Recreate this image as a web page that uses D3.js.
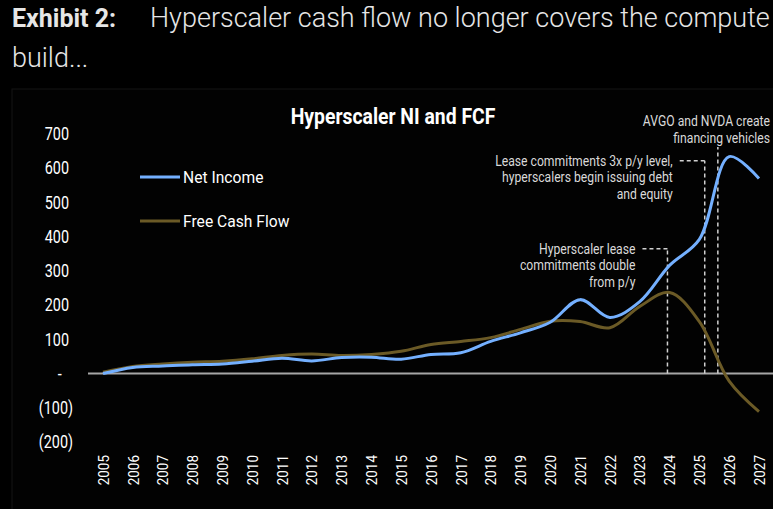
<!DOCTYPE html>
<html>
<head>
<meta charset="utf-8">
<script src="https://cdn.jsdelivr.net/npm/d3@7"></script>
<style>
  html, body { margin: 0; padding: 0; background: #000; }
  svg text { font-family: Roboto, "Noto Sans", sans-serif; }
</style>
</head>
<body>
<svg id="chart" width="773" height="509"></svg>
<script>
// values (USD bn)
const years = d3.range(2005, 2028);
const netIncome = [0, 18, 22, 26, 28, 36, 45, 37, 47, 48, 42, 56, 61, 94, 119, 150, 216, 164, 210, 316, 392, 634, 570];
const freeCashFlow = [4, 21, 28, 33, 36, 43, 53, 57, 53, 56, 65, 85, 94, 105, 129, 153, 152, 134, 196, 237, 152, -22, -111];
const yTicks = [700, 600, 500, 400, 300, 200, 100, 0, -100, -200];

const seriesNames = ["Net Income", "Free Cash Flow"];
const seriesColors = ["#74b0ff", "#6b5a26"];

// annotations: year position of the dashed marker, value where it tops out, text lines
const annoYears = [2023.93, 2025.18, 2025.62];
const annoTops = [365, 622, 662];
const annoTexts = [
  ["Hyperscaler lease", "commitments double", "from p/y"],
  ["Lease commitments 3x p/y level,", "hyperscalers begin issuing debt", "and equity"],
  ["AVGO and NVDA create", "financing vehicles"],
];

const svg = d3.select("#chart");
svg.append("rect").attr("width", 773).attr("height", 509).attr("fill", "#000");

// narrow a text element horizontally around its anchor x (stand-in for a condensed face)
const squeeze = (ax, s) => `translate(${ax},0) scale(${s},1) translate(${-ax},0)`;

// headline
const head = svg.append("text").attr("x", 12).attr("y", 27).attr("fill", "#e6e6e6");
head.append("tspan").attr("font-size", 25).attr("font-weight", 700).text("Exhibit 2:");
head.append("tspan").attr("x", 150).attr("font-size", 27).attr("font-weight", 300)
  .text("Hyperscaler cash flow no longer covers the compute");
svg.append("text").attr("x", 12).attr("y", 67).attr("font-size", 27).attr("font-weight", 300)
  .attr("fill", "#e6e6e6").text("build...");

// faint panel
svg.append("rect").attr("x", 12).attr("y", 89).attr("width", 770).attr("height", 430)
  .attr("fill", "#020202").attr("stroke", "#141414");

const x = d3.scaleLinear().domain([2005, 2027]).range([103, 759]);
const y = d3.scaleLinear().domain([-200, 700]).range([442, 134]);

svg.append("text").attr("x", 393).attr("y", 124).attr("text-anchor", "middle")
  .attr("font-size", 22).attr("font-weight", 700).attr("fill", "#fff")
  .attr("transform", squeeze(393, 0.88))
  .text("Hyperscaler NI and FCF");

// y axis labels (accounting style)
const fmt = (v) => v === 0 ? "-" : v < 0 ? `(${-v})` : `${v}`;
const yAxis = svg.append("g").attr("transform", "translate(69,0)")
  .call(d3.axisLeft(y).tickValues(yTicks).tickSize(0).tickPadding(0).tickFormat(fmt));
yAxis.select(".domain").remove();
yAxis.selectAll("text")
  .attr("font-size", 18).attr("fill", "#fff").attr("font-family", "Roboto")
  .attr("dx", (d) => d < 0 ? 5 : d === 0 ? -9 : 0)
  .attr("transform", function (d) { const ty = y(d); return `translate(0,${ty}) scale(0.8,1) translate(0,${-ty})`; });

// x axis labels, rotated
const xAxis = svg.append("g").attr("transform", "translate(0,455)")
  .call(d3.axisBottom(x).tickValues(years).tickSize(0).tickPadding(0).tickFormat(d3.format("d")));
xAxis.select(".domain").remove();
xAxis.selectAll("text")
  .attr("font-size", 15).attr("fill", "#fff").attr("font-family", "Roboto")
  .attr("text-anchor", "end").attr("dy", "0.35em").attr("y", 0)
  .attr("transform", "rotate(-90) scale(0.9,1)");

// zero line
svg.append("line").attr("x1", 88).attr("x2", 773).attr("y1", y(0)).attr("y2", y(0))
  .attr("stroke", "#a6a6a6").attr("stroke-width", 2);

// annotations
const dash = "4,3";
annoYears.forEach((yr, i) => {
  const ax = x(yr), ay = y(annoTops[i]);
  svg.append("line").attr("x1", ax).attr("x2", ax).attr("y1", y(0)).attr("y2", ay)
    .attr("stroke", "#d0d0d0").attr("stroke-width", 1.5).attr("stroke-dasharray", dash);
  const lines = annoTexts[i];
  let tx, ty0;
  if (i < 2) {
    svg.append("line").attr("x1", ax).attr("x2", ax - 26).attr("y1", ay).attr("y2", ay)
      .attr("stroke", "#d0d0d0").attr("stroke-width", 1.5).attr("stroke-dasharray", dash);
    tx = ax - 32; ty0 = ay + 5;
  } else {
    tx = 770; ty0 = ay - 21;
  }
  const t = svg.append("text").attr("text-anchor", "end").attr("font-size", 14)
    .attr("fill", "#d9d9d9")
    .attr("transform", squeeze(tx, 0.87));
  lines.forEach((s, k) => t.append("tspan").attr("x", tx).attr("y", ty0 + k * 16.5).text(s));
});

// series lines
const line = d3.line()
  .x((d, i) => x(years[i]))
  .y((d) => y(d))
  .curve(d3.curveCatmullRom.alpha(0.5));

[freeCashFlow, netIncome].forEach((vals, j) => {
  const c = j === 0 ? seriesColors[1] : seriesColors[0];
  svg.append("path").attr("d", line(vals)).attr("fill", "none")
    .attr("stroke", c).attr("stroke-width", 3).attr("stroke-linejoin", "round");
});

// legend
seriesNames.forEach((name, i) => {
  const ly = 177 + i * 44;
  svg.append("line").attr("x1", 140).attr("x2", 180).attr("y1", ly).attr("y2", ly)
    .attr("stroke", seriesColors[i]).attr("stroke-width", 3);
  svg.append("text").attr("x", 183).attr("y", ly + 6).attr("font-size", 17)
    .attr("fill", "#fff")
    .attr("transform", squeeze(183, 0.92))
    .text(name);
});
</script>
</body>
</html>
